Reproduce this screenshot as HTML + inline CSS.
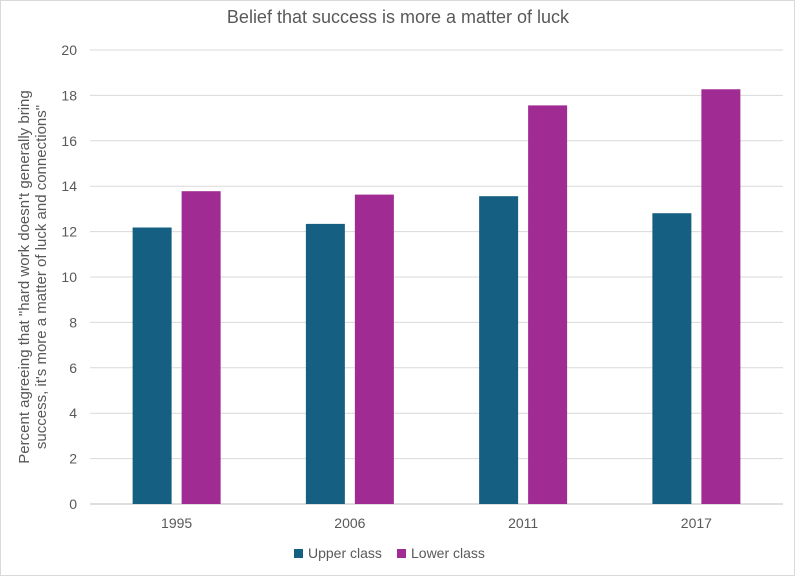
<!DOCTYPE html>
<html><head><meta charset="utf-8"><style>
body{margin:0;background:#fff;font-family:"Liberation Sans",sans-serif;}
svg text{font-family:"Liberation Sans",sans-serif;fill:#595959;}
</style></head><body>
<svg width="795" height="576">
<rect x="0.5" y="0.5" width="794" height="575" fill="#fff" stroke="#d9d9d9"/>
<text x="398" y="23" font-size="18" text-anchor="middle">Belief that success is more a matter of luck</text>
<g id="grid"></g><g id="bars"></g><g id="xl"></g>
<text transform="translate(32,277) rotate(-90)" font-size="15" text-anchor="middle"><tspan x="0" dy="-3">Percent agreeing that "hard work doesn't generally bring</tspan><tspan x="0" dy="17">success, it's more a matter of luck and connections"</tspan></text>
<g>
<rect x="294" y="549" width="9" height="9" fill="#156082"/>
<text x="308" y="558" font-size="14">Upper class</text>
<rect x="397" y="549" width="9" height="9" fill="#A02B93"/>
<text x="411" y="558" font-size="14">Lower class</text>
</g>
</svg>
<script>
const categories=["1995","2006","2011","2017"];
const upper=[12.18,12.34,13.56,12.81];
const lower=[13.78,13.63,17.56,18.27];
const yTicks=[0,2,4,6,8,10,12,14,16,18,20];
const NS="http://www.w3.org/2000/svg";
const y0=504,yTop=50,yMax=20,xL=90,xR=783;
const y=v=>y0-(v/yMax)*(y0-yTop);
const band=(xR-xL)/categories.length;
const xc=i=>xL+band*(i+0.5);
function mk(t,a,p){const e=document.createElementNS(NS,t);for(const k in a)e.setAttribute(k,a[k]);p.appendChild(e);return e;}
const g=document.getElementById('grid');
yTicks.forEach(t=>{
 const l=mk('line',{x1:xL,x2:xR,y1:y(t),y2:y(t),stroke:t===0?'#bfbfbf':'#d9d9d9','stroke-width':1},g);
 
 
 const tx=mk('text',{x:77,y:y(t)+5,'font-size':14,'text-anchor':'end'},g);
 tx.textContent=t;
 
 
});
const b=document.getElementById('bars');
const bw=39,gap=10;
categories.forEach((c,i)=>{
 const r1=mk('rect',{x:xc(i)-gap/2-bw,y:y(upper[i]),width:bw,height:y0-y(upper[i]),fill:'#156082'},b);
 
 
 const r2=mk('rect',{x:xc(i)+gap/2,y:y(lower[i]),width:bw,height:y0-y(lower[i]),fill:'#A02B93'},b);
 
 
 const t=mk('text',{x:xc(i),y:528,'font-size':14,'text-anchor':'middle'},document.getElementById('xl'));
 t.textContent=c;
 
 
});
</script>
</body></html>
